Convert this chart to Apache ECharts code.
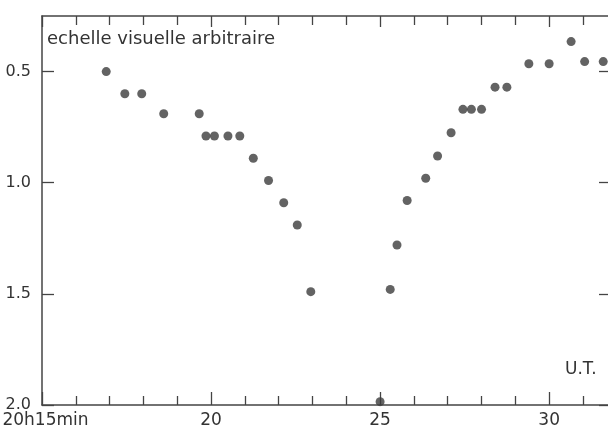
<!DOCTYPE html>
<html>
<head>
<meta charset="utf-8">
<script src="https://cdn.jsdelivr.net/npm/echarts@6/dist/echarts.min.js"></script>
<style>
html,body{margin:0;padding:0;background:#fff;}
#c{width:608px;height:429px;}
</style>
</head>
<body>
<div id="c"></div>
<script>
// minutes after 20h00 (U.T.)
const times = [16.9, 17.45, 17.95, 18.6, 19.65, 19.85, 20.1, 20.5, 20.85, 21.25, 21.7, 22.15, 22.55, 22.95,
               25.0, 25.3, 25.5, 25.8, 26.35, 26.7, 27.1, 27.45, 27.7, 28.0, 28.4, 28.75, 29.4, 30.0, 30.65, 31.05, 31.6];
// visual magnitude estimate (arbitrary scale)
const magnitudes = [0.5, 0.6, 0.6, 0.69, 0.69, 0.79, 0.79, 0.79, 0.79, 0.89, 0.99, 1.09, 1.19, 1.49,
                    1.985, 1.48, 1.28, 1.08, 0.98, 0.88, 0.775, 0.67, 0.67, 0.67, 0.57, 0.57, 0.465, 0.465, 0.365, 0.455, 0.455];
const yTickValues = [0.5, 1.0, 1.5, 2.0];
const xLabelFirst = '20h15min';
const yTitle = 'echelle visuelle arbitraire';
const xTitle = 'U.T.';

const FONT = 'DejaVu Sans';
const TXT = '#333';
const AX = '#444';

const points = times.map((t, i) => [t, magnitudes[i]]);

const chart = echarts.init(document.getElementById('c'), null, {renderer: 'canvas'});
const xBase = {
  type: 'value', min: 15, max: 31.8, interval: 5,
  axisLine: {show: true, lineStyle: {color: AX, width: 1.5}},
  axisTick: {show: true, inside: true, length: 13, lineStyle: {color: AX, width: 1.3}},
  minorTick: {show: true, splitNumber: 5, length: 9, lineStyle: {color: AX, width: 1.3}},
  splitLine: {show: false}, minorSplitLine: {show: false}
};
chart.setOption({
  animation: false,
  backgroundColor: '#fff',
  grid: {left: 42, right: -2, top: 16, bottom: 24, containLabel: false, outerBoundsMode: 'none'},
  xAxis: [
    Object.assign({}, xBase, {
      position: 'bottom',
      axisLabel: {
        show: true, margin: 7, fontFamily: FONT, fontSize: 17, color: TXT, showMaxLabel: false,
        formatter: v => v === 15 ? '{f|' + xLabelFirst + '}' : String(v),
        rich: {f: {fontFamily: FONT, fontSize: 17, color: TXT, padding: [0, 0, 0, 7]}}
      }
    }),
    Object.assign({}, xBase, {
      position: 'top',
      axisTick: {show: true, inside: true, length: 11, lineStyle: {color: AX, width: 1.3}},
      axisLabel: {show: false}
    })
  ],
  yAxis: [
    {
      type: 'value', inverse: true, min: 0.25, max: 2.0, position: 'left',
      axisLine: {show: true, lineStyle: {color: AX, width: 1.5}},
      axisTick: {show: true, inside: true, length: 12, customValues: yTickValues, lineStyle: {color: AX, width: 1.3}},
      axisLabel: {show: true, customValues: yTickValues, margin: 11, fontFamily: FONT, fontSize: 16, color: TXT,
                  formatter: v => Number(v).toFixed(1)},
      splitLine: {show: false}
    },
    {
      type: 'value', inverse: true, min: 0.25, max: 2.0, position: 'right',
      axisLine: {show: true, lineStyle: {color: AX, width: 1.5}},
      axisTick: {show: true, inside: true, length: 11, customValues: yTickValues, lineStyle: {color: AX, width: 1.3}},
      axisLabel: {show: false},
      splitLine: {show: false}
    }
  ],
  graphic: [
    {type: 'text', left: 47, top: 30, style: {text: yTitle, font: '18px "DejaVu Sans"', fill: TXT}},
    {type: 'text', left: 565, top: 361, style: {text: xTitle, font: '17px "DejaVu Sans"', fill: TXT}}
  ],
  series: [{
    type: 'scatter', xAxisIndex: 0, yAxisIndex: 0,
    data: points, symbol: 'circle', symbolSize: 9,
    itemStyle: {color: '#3c3c3c'}
  }]
});
</script>
</body>
</html>
